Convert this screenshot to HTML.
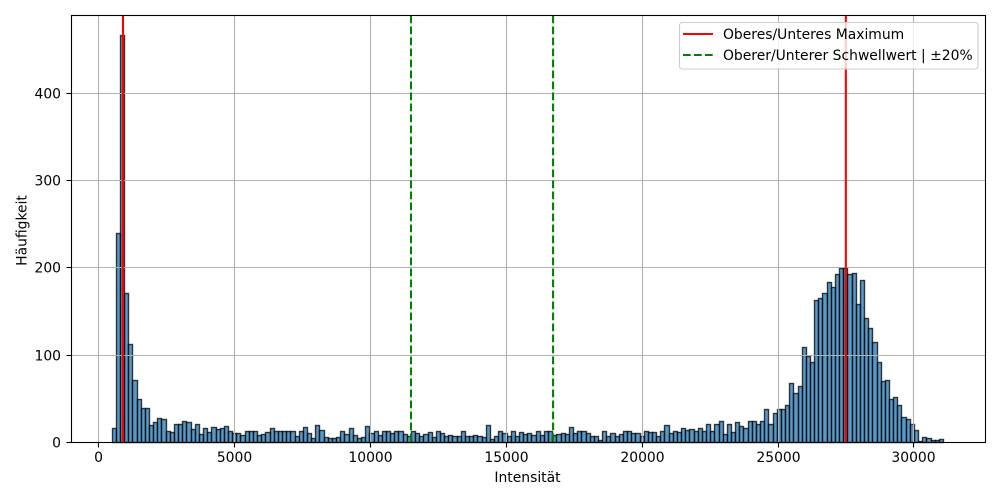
<!DOCTYPE html>
<html>
<head>
<meta charset="utf-8">
<title>Histogramm</title>
<style>
html,body{margin:0;padding:0;background:#fff;}
svg{display:block;}
text{font-family:"DejaVu Sans",sans-serif;font-size:13.9px;fill:#000;}
</style>
</head>
<body>
<svg id="chart" width="1000" height="500" viewBox="0 0 1000 500" xmlns="http://www.w3.org/2000/svg">
  <rect x="0" y="0" width="1000" height="500" fill="#fff"/>
  <g id="bars"></g>
  <g id="grid"></g>
  <g id="refs"></g>
  <g id="frame"></g>
  <g id="ticks"></g>
  <text x="527.5" y="482" text-anchor="middle">Intensität</text>
  <text transform="translate(26.5,230.5) rotate(-90)" text-anchor="middle">Häufigkeit</text>
  <g>
    <rect x="679.5" y="22.5" width="298.5" height="46.5" rx="3" ry="3" fill="#fff" fill-opacity="0.8" stroke="#ccc" stroke-width="1.1"/>
    <line x1="683" y1="34" x2="713" y2="34" stroke="#f00" stroke-width="2.08"/>
    <text x="723" y="39">Oberes/Unteres Maximum</text>
    <line x1="683" y1="55" x2="713" y2="55" stroke="#008000" stroke-width="2.08" stroke-dasharray="7.7 3.3"/>
    <text x="723" y="60">Oberer/Unterer Schwellwert | ±20%</text>
  </g>
</svg>
<script>
const binStart = 490;
const binWidth = 153;
const counts = [
16,239,466,170,112,71,49,39,39,19,
23,27,26,13,11,20,21,24,23,15,
21,9,16,11,17,15,16,18,13,10,
10,8,13,13,12,8,9,11,16,12,
12,13,12,12,7,13,17,10,5,19,
14,6,5,4,6,12,9,16,8,5,
6,18,10,13,8,12,12,10,13,13,
9,7,13,10,7,9,11,6,13,10,
7,8,7,7,13,7,7,8,7,6,
19,3,7,12,10,7,13,7,11,9,
10,8,13,8,13,13,8,9,10,9,
17,10,12,13,10,7,7,2,13,7,
10,7,9,13,12,10,10,7,12,11,
11,7,13,19,10,12,11,16,14,15,
13,16,12,21,13,20,24,9,21,11,
23,18,16,24,24,21,24,38,21,33,
38,38,42,67,56,64,109,98,92,163,
165,170,183,178,192,199,199,192,194,158,
185,142,131,114,92,70,71,49,52,42,
29,26,21,14,1,6,4,2,2,3
];
const xTicks = [0,5000,10000,15000,20000,25000,30000];
const yTicks = [0,100,200,300,400];
const maxLines = [890,27495];
const thresholdLines = [11490,16720];

const NS = 'http://www.w3.org/2000/svg';
const plotLeft = 71.5, plotRight = 985.5, plotTop = 15.5, plotBottom = 442.5;
function xScale(v){ return 98.8 + v * 0.02717; }
function yScale(v){ return 442.4 - v * 0.873; }
function snap(p){ return Math.floor(p) + 0.5; }
function mk(tag, parent){
  const el = document.createElementNS(NS, tag);
  document.getElementById(parent).appendChild(el);
  return el;
}
function line(el, x1, y1, x2, y2, color, w){
  el.setAttribute('x1', x1);
  el.setAttribute('y1', y1);
  el.setAttribute('x2', x2);
  el.setAttribute('y2', y2);
  el.setAttribute('stroke', color);
  el.setAttribute('stroke-width', w);
}

counts.forEach(function(c, i){
  const x0 = snap(xScale(binStart + i * binWidth));
  const x1 = snap(xScale(binStart + (i + 1) * binWidth));
  const y0 = snap(yScale(c));
  const r = mk('rect', 'bars');
  
  
  r.setAttribute('x', x0);
  r.setAttribute('y', y0);
  r.setAttribute('width', x1 - x0);
  r.setAttribute('height', snap(yScale(0)) - y0);
  r.setAttribute('fill', '#1f77b4');
  r.setAttribute('fill-opacity', '0.75');
  r.setAttribute('stroke', '#000');
  r.setAttribute('stroke-opacity', '0.75');
  r.setAttribute('stroke-width', '1.39');
});

xTicks.forEach(function(v){
  const x = snap(xScale(v));
  const g = mk('line', 'grid');
  
  
  line(g, x, plotTop, x, plotBottom, '#b0b0b0', 1.1);
  const t = mk('line', 'ticks');
  
  
  line(t, x, plotBottom, x, plotBottom + 5, '#000', 1.1);
  const l = mk('text', 'ticks');
  
  
  l.setAttribute('x', x);
  l.setAttribute('y', 462);
  l.setAttribute('text-anchor', 'middle');
  l.textContent = v;
});

yTicks.forEach(function(v){
  const y = snap(yScale(v));
  if (v > 0) {
    const g = mk('line', 'grid');
    
    
    line(g, plotLeft, y, plotRight, y, '#b0b0b0', 1.1);
  }
  const t = mk('line', 'ticks');
  
  
  line(t, plotLeft - 5, y, plotLeft, y, '#000', 1.1);
  const l = mk('text', 'ticks');
  
  
  l.setAttribute('x', 61);
  l.setAttribute('y', y + 5);
  l.setAttribute('text-anchor', 'end');
  l.textContent = v;
});

maxLines.forEach(function(v){
  const el = mk('line', 'refs');
  
  
  line(el, xScale(v), plotTop, xScale(v), plotBottom, '#f00', 2.08);
});
thresholdLines.forEach(function(v){
  const el = mk('line', 'refs');
  
  
  line(el, xScale(v), plotTop, xScale(v), plotBottom, '#008000', 2.08);
  el.setAttribute('stroke-dasharray', '7.7 3.3');
});

const spine = mk('rect', 'frame');


spine.setAttribute('x', plotLeft);
spine.setAttribute('y', plotTop);
spine.setAttribute('width', plotRight - plotLeft);
spine.setAttribute('height', plotBottom - plotTop);
spine.setAttribute('fill', 'none');
spine.setAttribute('stroke', '#000');
spine.setAttribute('stroke-width', '1.1');
</script>
</body>
</html>
